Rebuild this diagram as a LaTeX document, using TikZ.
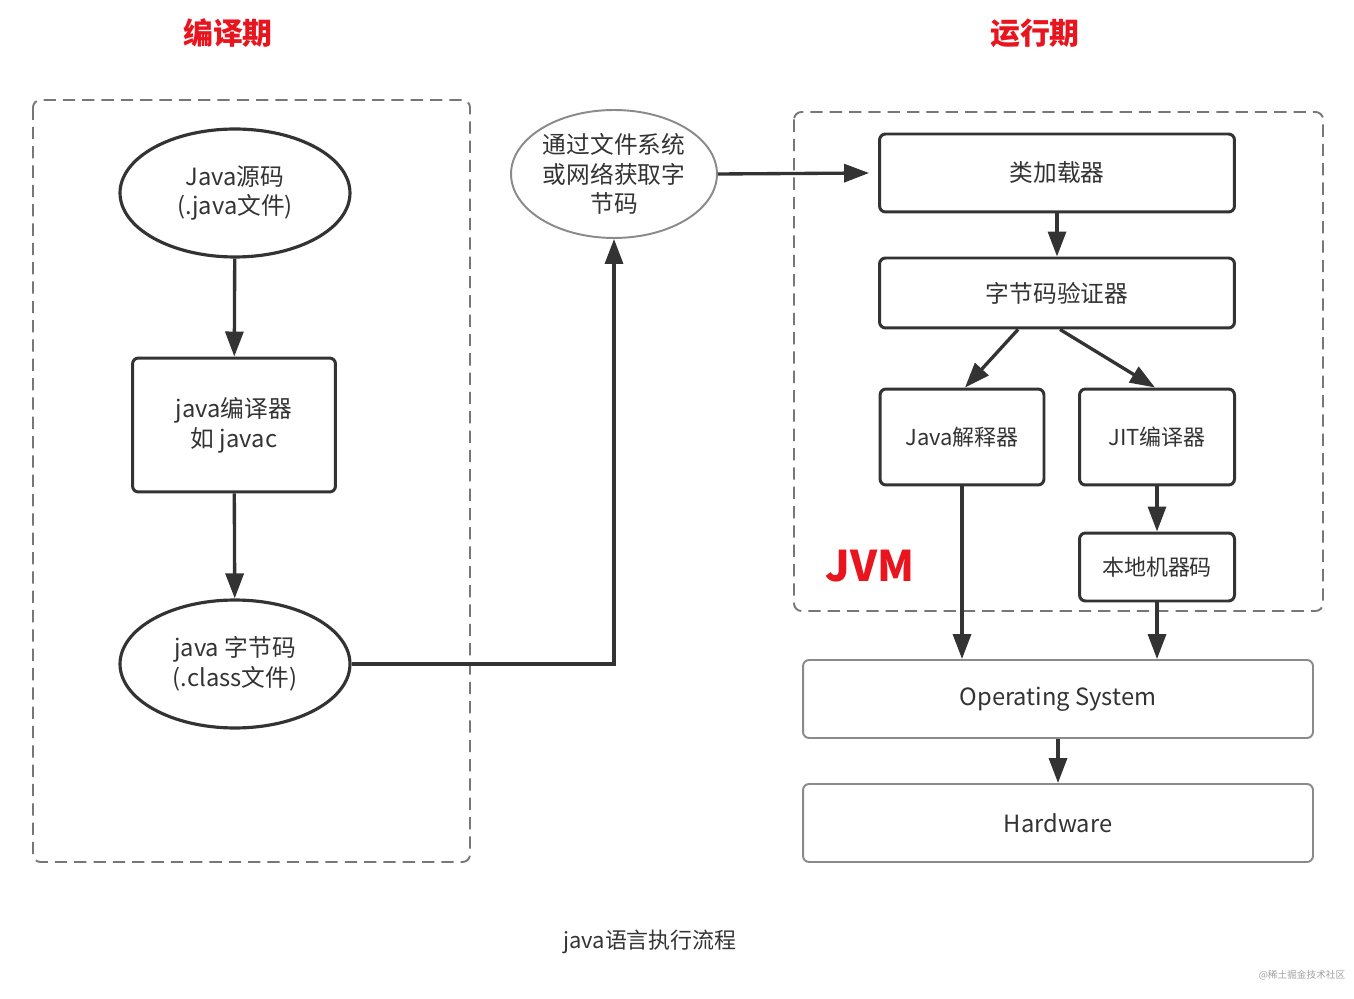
\documentclass[tikz,border=0pt]{standalone}
\usepackage{fontspec}
\setmainfont{Noto Sans CJK SC}
\usetikzlibrary{arrows.meta,shapes.geometric}
\definecolor{ink}{HTML}{333333}
\definecolor{lightink}{HTML}{8A8A8A}
\definecolor{dashgray}{HTML}{777777}
\definecolor{titlered}{HTML}{E8141E}
\tikzset{
  darkbox/.style={draw=ink,line width=1.7pt,rounded corners=0.12cm,fill=white,align=center,inner sep=0pt,text=ink},
  lightbox/.style={draw=lightink,line width=1.1pt,rounded corners=0.12cm,fill=white,align=center,inner sep=0pt,text=ink},
  darkell/.style={ellipse,draw=ink,line width=1.8pt,fill=white,align=center,inner sep=0pt,minimum width=4.6cm,minimum height=2.56cm,text=ink},
  lightell/.style={ellipse,draw=lightink,line width=1.1pt,fill=white,align=center,inner sep=0pt,minimum width=4.12cm,minimum height=2.56cm,text=ink},
  group/.style={draw=dashgray,line width=1.1pt,dash pattern=on 7pt off 4pt,rounded corners=0.15cm},
  flow/.style={draw=ink,line width=1.9pt,-{Triangle[length=0.5cm,width=0.36cm]}},
  title/.style={text=titlered,font=\fontsize{17}{20}\selectfont\bfseries},
  txt/.style={font=\fontsize{13.5}{17}\selectfont}
}
\begin{document}
\begin{tikzpicture}[x=0.02cm,y=-0.02cm]
\useasboundingbox (0,0) rectangle (1354,999);
% titles
\node[title] (t1) at (228,33) {编译期};
\node[title] (t2) at (1035,33) {运行期};
% groups
\draw[group] (33,100) rectangle (470,862);
\draw[group] (794,112) rectangle (1323,611);
% left column
\node[darkell,txt] (src) at (235,193) {Java源码\\(.java文件)};
\node[darkbox,txt,minimum width=4.06cm,minimum height=2.68cm] (javac) at (234,425) {java编译器\\如 javac};
\node[darkell,txt] (bc) at (235,664) {java 字节码\\(.class文件)};
% middle
\node[lightell,txt] (net) at (614,174) {通过文件系统\\或网络获取字\\节码};
% right
\node[darkbox,txt,minimum width=7.1cm,minimum height=1.56cm] (loader) at (1057,173) {类加载器};
\node[darkbox,txt,minimum width=7.1cm,minimum height=1.4cm] (verif) at (1057,293) {字节码验证器};
\node[darkbox,font=\fontsize{12.5}{15}\selectfont,minimum width=3.28cm,minimum height=1.92cm] (interp) at (962,437) {Java解释器};
\node[darkbox,font=\fontsize{12.5}{15}\selectfont,minimum width=3.1cm,minimum height=1.92cm] (jit) at (1157,437) {JIT编译器};
\node[darkbox,font=\fontsize{12.5}{15}\selectfont,minimum width=3.1cm,minimum height=1.36cm] (native) at (1157,567) {本地机器码};
\node[text=titlered,font=\fontsize{24}{28}\selectfont\bfseries] (jvm) at (870,566) {JVM};
\node[lightbox,txt,minimum width=10.2cm,minimum height=1.56cm] (os) at (1058,699) {Operating System};
\node[lightbox,txt,minimum width=10.2cm,minimum height=1.56cm] (hw) at (1058,823) {Hardware};
% caption and watermark
\node[text=ink,font=\fontsize{12.5}{15}\selectfont] (cap) at (650,942) {java语言执行流程};
\node[text=lightink!80,font=\fontsize{5.5}{7}\selectfont] (wm) at (1302,975) {@稀土掘金技术社区};
% connectors
\draw[flow] (src) -- (javac);
\draw[flow] (javac) -- (bc);
\draw[flow] (bc.east) -| (net.south);
\draw[flow] (net.east) -- ([xshift=-0.18cm]loader.west);
\draw[flow] (loader) -- (verif);
\draw[flow] ([xshift=-0.78cm]verif.south) -- ([xshift=0.06cm]interp.north);
\draw[flow] ([xshift=0.06cm]verif.south) -- ([xshift=-0.04cm]jit.north);
\draw[flow] (jit) -- (native);
\draw[flow] (interp.south) -- (interp.south |- os.north);
\draw[flow] (native.south) -- (native.south |- os.north);
\draw[flow] (os) -- (hw);
\end{tikzpicture}
\end{document}
